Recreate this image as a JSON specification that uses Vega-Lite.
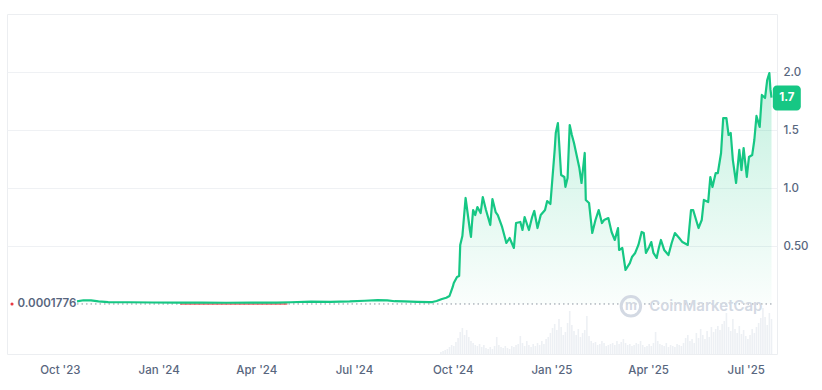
{
"$schema": "https://vega.github.io/schema/vega-lite/v6.json",
"width": 770,
"height": 340,
"autosize": "none",
"padding": {"left": 7, "top": 14, "right": 45, "bottom": 36},
"background": "white",
"config": {
  "view": {"stroke": "#eceef1"},
  "axis": {"labelFont": "Inter", "labelColor": "#58667e", "labelFontSize": 11.5, "labelFontWeight": 500, "ticks": false, "domain": false, "titleFont": "Inter"},
  "axisX": {"grid": false}
},
"datasets": {
  "price": [
    {"date":"2023-10-17","price":0.022},{"date":"2023-10-23","price":0.032},{"date":"2023-10-30","price":0.032},{"date":"2023-11-06","price":0.023},{"date":"2023-11-15","price":0.017},{"date":"2023-12-04","price":0.015},{"date":"2023-12-27","price":0.013},{"date":"2024-01-19","price":0.012},{"date":"2024-02-10","price":0.012},{"date":"2024-03-04","price":0.011},{"date":"2024-03-28","price":0.012},{"date":"2024-04-20","price":0.012},{"date":"2024-05-03","price":0.015},{"date":"2024-05-22","price":0.020},{"date":"2024-06-09","price":0.019},{"date":"2024-06-27","price":0.022},{"date":"2024-07-11","price":0.028},{"date":"2024-07-23","price":0.034},{"date":"2024-08-01","price":0.032},{"date":"2024-08-08","price":0.024},{"date":"2024-08-17","price":0.022},{"date":"2024-08-29","price":0.019},{"date":"2024-09-09","price":0.017},{"date":"2024-09-12","price":0.017},{"date":"2024-09-16","price":0.026},{"date":"2024-09-21","price":0.043},{"date":"2024-09-25","price":0.054},{"date":"2024-09-28","price":0.069},
    {"date":"2024-10-01","price":0.147},{"date":"2024-10-02","price":0.181},{"date":"2024-10-05","price":0.233},{"date":"2024-10-07","price":0.241},{"date":"2024-10-08","price":0.509},{"date":"2024-10-10","price":0.586},{"date":"2024-10-13","price":0.914},{"date":"2024-10-17","price":0.638},{"date":"2024-10-18","price":0.578},{"date":"2024-10-19","price":0.698},{"date":"2024-10-20","price":0.810},{"date":"2024-10-22","price":0.767},{"date":"2024-10-24","price":0.836},{"date":"2024-10-27","price":0.784},{"date":"2024-10-29","price":0.922},
    {"date":"2024-11-01","price":0.810},{"date":"2024-11-05","price":0.681},{"date":"2024-11-07","price":0.905},{"date":"2024-11-10","price":0.793},{"date":"2024-11-12","price":0.767},{"date":"2024-11-16","price":0.664},{"date":"2024-11-20","price":0.526},{"date":"2024-11-23","price":0.569},{"date":"2024-11-27","price":0.483},{"date":"2024-11-29","price":0.698},
    {"date":"2024-12-03","price":0.707},{"date":"2024-12-05","price":0.638},{"date":"2024-12-07","price":0.750},{"date":"2024-12-11","price":0.638},{"date":"2024-12-14","price":0.750},{"date":"2024-12-16","price":0.802},{"date":"2024-12-19","price":0.655},{"date":"2024-12-22","price":0.767},{"date":"2024-12-26","price":0.810},{"date":"2024-12-28","price":0.888},{"date":"2024-12-31","price":0.862},
    {"date":"2025-01-04","price":1.328},{"date":"2025-01-05","price":1.474},{"date":"2025-01-07","price":1.560},{"date":"2025-01-10","price":1.112},{"date":"2025-01-13","price":1.095},{"date":"2025-01-14","price":1.009},{"date":"2025-01-16","price":1.086},{"date":"2025-01-18","price":1.543},{"date":"2025-01-20","price":1.457},{"date":"2025-01-22","price":1.388},{"date":"2025-01-24","price":1.302},{"date":"2025-01-27","price":1.172},{"date":"2025-01-29","price":1.043},
    {"date":"2025-02-01","price":1.302},{"date":"2025-02-02","price":0.897},{"date":"2025-02-05","price":0.871},{"date":"2025-02-08","price":0.612},{"date":"2025-02-11","price":0.724},{"date":"2025-02-14","price":0.810},{"date":"2025-02-17","price":0.698},{"date":"2025-02-19","price":0.724},{"date":"2025-02-23","price":0.741},{"date":"2025-02-26","price":0.621},
    {"date":"2025-03-01","price":0.552},{"date":"2025-03-04","price":0.655},{"date":"2025-03-05","price":0.466},{"date":"2025-03-08","price":0.483},{"date":"2025-03-11","price":0.293},{"date":"2025-03-15","price":0.353},{"date":"2025-03-17","price":0.405},{"date":"2025-03-20","price":0.440},{"date":"2025-03-23","price":0.509},{"date":"2025-03-26","price":0.621},{"date":"2025-03-28","price":0.612},{"date":"2025-03-30","price":0.440},
    {"date":"2025-04-02","price":0.491},{"date":"2025-04-04","price":0.534},{"date":"2025-04-06","price":0.440},{"date":"2025-04-09","price":0.397},{"date":"2025-04-11","price":0.483},{"date":"2025-04-13","price":0.552},{"date":"2025-04-16","price":0.466},{"date":"2025-04-20","price":0.422},{"date":"2025-04-23","price":0.526},{"date":"2025-04-26","price":0.612},{"date":"2025-04-30","price":0.569},
    {"date":"2025-05-03","price":0.534},{"date":"2025-05-08","price":0.509},{"date":"2025-05-11","price":0.810},{"date":"2025-05-13","price":0.810},{"date":"2025-05-18","price":0.655},{"date":"2025-05-21","price":0.724},{"date":"2025-05-23","price":0.897},{"date":"2025-05-27","price":0.879},{"date":"2025-05-29","price":1.095},{"date":"2025-05-31","price":1.009},
    {"date":"2025-06-03","price":1.129},{"date":"2025-06-05","price":1.129},{"date":"2025-06-08","price":1.302},{"date":"2025-06-10","price":1.603},{"date":"2025-06-13","price":1.603},{"date":"2025-06-15","price":1.457},{"date":"2025-06-17","price":1.474},{"date":"2025-06-19","price":1.241},{"date":"2025-06-22","price":1.043},{"date":"2025-06-25","price":1.328},{"date":"2025-06-27","price":1.155},{"date":"2025-06-29","price":1.345},
    {"date":"2025-07-02","price":1.095},{"date":"2025-07-04","price":1.267},{"date":"2025-07-07","price":1.284},{"date":"2025-07-09","price":1.414},{"date":"2025-07-11","price":1.621},{"date":"2025-07-14","price":1.526},{"date":"2025-07-16","price":1.802},{"date":"2025-07-19","price":1.776},{"date":"2025-07-21","price":1.931},{"date":"2025-07-23","price":1.991},{"date":"2025-07-24","price":1.85},{"date":"2025-07-25","price":1.78}
  ],
  "red": [
    {"date":"2024-01-21","price":0.0001},{"date":"2024-02-20","price":0.0001},{"date":"2024-03-20","price":0.0001},{"date":"2024-04-30","price":0.0001}
  ],
  "volume": [
    {"date":"2024-09-20","volume":2},{"date":"2024-09-22","volume":3},{"date":"2024-09-24","volume":4},{"date":"2024-09-26","volume":5},{"date":"2024-09-28","volume":7},{"date":"2024-09-30","volume":9},
    {"date":"2024-10-02","volume":8},{"date":"2024-10-04","volume":12},{"date":"2024-10-06","volume":16},{"date":"2024-10-08","volume":22},{"date":"2024-10-10","volume":26},{"date":"2024-10-12","volume":19},{"date":"2024-10-14","volume":24},{"date":"2024-10-16","volume":17},{"date":"2024-10-18","volume":13},{"date":"2024-10-20","volume":11},{"date":"2024-10-22","volume":9},{"date":"2024-10-24","volume":8},{"date":"2024-10-26","volume":10},{"date":"2024-10-28","volume":7},{"date":"2024-10-30","volume":9},
    {"date":"2024-11-01","volume":6},{"date":"2024-11-03","volume":5},{"date":"2024-11-05","volume":7},{"date":"2024-11-07","volume":5},{"date":"2024-11-09","volume":8},{"date":"2024-11-11","volume":17},{"date":"2024-11-13","volume":9},{"date":"2024-11-15","volume":7},{"date":"2024-11-17","volume":6},{"date":"2024-11-19","volume":8},{"date":"2024-11-21","volume":6},{"date":"2024-11-23","volume":5},{"date":"2024-11-25","volume":8},{"date":"2024-11-27","volume":7},{"date":"2024-11-29","volume":9},
    {"date":"2024-12-01","volume":10},{"date":"2024-12-03","volume":18},{"date":"2024-12-05","volume":11},{"date":"2024-12-07","volume":8},{"date":"2024-12-09","volume":13},{"date":"2024-12-11","volume":9},{"date":"2024-12-13","volume":7},{"date":"2024-12-15","volume":10},{"date":"2024-12-17","volume":8},{"date":"2024-12-19","volume":11},{"date":"2024-12-21","volume":9},{"date":"2024-12-23","volume":13},{"date":"2024-12-25","volume":10},{"date":"2024-12-27","volume":15},{"date":"2024-12-29","volume":17},{"date":"2024-12-31","volume":21},
    {"date":"2025-01-02","volume":26},{"date":"2025-01-04","volume":30},{"date":"2025-01-06","volume":24},{"date":"2025-01-08","volume":35},{"date":"2025-01-10","volume":27},{"date":"2025-01-12","volume":19},{"date":"2025-01-14","volume":22},{"date":"2025-01-16","volume":31},{"date":"2025-01-18","volume":43},{"date":"2025-01-20","volume":29},{"date":"2025-01-22","volume":23},{"date":"2025-01-24","volume":19},{"date":"2025-01-26","volume":25},{"date":"2025-01-28","volume":17},{"date":"2025-01-30","volume":21},
    {"date":"2025-02-01","volume":24},{"date":"2025-02-03","volume":38},{"date":"2025-02-05","volume":18},{"date":"2025-02-07","volume":13},{"date":"2025-02-09","volume":11},{"date":"2025-02-11","volume":12},{"date":"2025-02-13","volume":9},{"date":"2025-02-15","volume":10},{"date":"2025-02-17","volume":13},{"date":"2025-02-19","volume":11},{"date":"2025-02-21","volume":8},{"date":"2025-02-23","volume":9},{"date":"2025-02-25","volume":10},{"date":"2025-02-27","volume":11},
    {"date":"2025-03-01","volume":9},{"date":"2025-03-03","volume":13},{"date":"2025-03-05","volume":10},{"date":"2025-03-07","volume":12},{"date":"2025-03-09","volume":15},{"date":"2025-03-11","volume":11},{"date":"2025-03-13","volume":9},{"date":"2025-03-15","volume":10},{"date":"2025-03-17","volume":8},{"date":"2025-03-19","volume":9},{"date":"2025-03-21","volume":11},{"date":"2025-03-23","volume":10},{"date":"2025-03-25","volume":13},{"date":"2025-03-27","volume":9},{"date":"2025-03-29","volume":7},{"date":"2025-03-31","volume":8},
    {"date":"2025-04-02","volume":10},{"date":"2025-04-04","volume":8},{"date":"2025-04-06","volume":11},{"date":"2025-04-08","volume":22},{"date":"2025-04-10","volume":13},{"date":"2025-04-12","volume":10},{"date":"2025-04-14","volume":9},{"date":"2025-04-16","volume":8},{"date":"2025-04-18","volume":11},{"date":"2025-04-20","volume":7},{"date":"2025-04-22","volume":9},{"date":"2025-04-24","volume":8},{"date":"2025-04-26","volume":7},{"date":"2025-04-28","volume":10},{"date":"2025-04-30","volume":9},
    {"date":"2025-05-02","volume":8},{"date":"2025-05-04","volume":11},{"date":"2025-05-06","volume":16},{"date":"2025-05-08","volume":19},{"date":"2025-05-10","volume":13},{"date":"2025-05-12","volume":15},{"date":"2025-05-14","volume":11},{"date":"2025-05-16","volume":21},{"date":"2025-05-18","volume":16},{"date":"2025-05-20","volume":25},{"date":"2025-05-22","volume":19},{"date":"2025-05-24","volume":15},{"date":"2025-05-26","volume":23},{"date":"2025-05-28","volume":17},{"date":"2025-05-30","volume":27},
    {"date":"2025-06-01","volume":22},{"date":"2025-06-03","volume":25},{"date":"2025-06-05","volume":28},{"date":"2025-06-07","volume":24},{"date":"2025-06-09","volume":30},{"date":"2025-06-11","volume":33},{"date":"2025-06-13","volume":41},{"date":"2025-06-15","volume":27},{"date":"2025-06-17","volume":23},{"date":"2025-06-19","volume":35},{"date":"2025-06-21","volume":25},{"date":"2025-06-23","volume":21},{"date":"2025-06-25","volume":28},{"date":"2025-06-27","volume":20},{"date":"2025-06-29","volume":24},
    {"date":"2025-07-01","volume":18},{"date":"2025-07-03","volume":15},{"date":"2025-07-05","volume":19},{"date":"2025-07-07","volume":25},{"date":"2025-07-09","volume":21},{"date":"2025-07-11","volume":27},{"date":"2025-07-13","volume":31},{"date":"2025-07-15","volume":36},{"date":"2025-07-17","volume":46},{"date":"2025-07-19","volume":37},{"date":"2025-07-21","volume":29},{"date":"2025-07-23","volume":41},{"date":"2025-07-25","volume":35}
  ],
  "open": [{"date":"2023-08-22T12:00:00Z","start":"2023-10-17","end":"2025-07-25T11:00:00Z","edge":"2023-08-17T10:00:00Z","price":0.0001776,"label":"0.0001776"}],
  "last": [{"date":"2025-08-08T06:00:00Z","price":1.776,"label":"1.7"}],
  "brand": [{"date":"2025-03-16","logo":"2025-03-16","textdate":"2025-04-02","price":-0.02,"label":"CoinMarketCap"}]
},
"layer": [
  {
    "data": {"name": "volume"},
    "mark": {"type": "bar", "color": "#edf0f4", "size": 1.6},
    "encoding": {
      "x": {"field": "date", "type": "temporal", "title": null,
        "scale": {"type": "utc", "domain": [{"year": 2023, "month": 8, "date": 17, "hours": 10, "utc": true}, {"year": 2025, "month": 7, "date": 25, "hours": 11, "utc": true}]},
        "axis": {"values": [{"year":2023,"month":10,"date":1,"utc":true},{"year":2024,"month":1,"date":1,"utc":true},{"year":2024,"month":4,"date":1,"utc":true},{"year":2024,"month":7,"date":1,"utc":true},{"year":2024,"month":10,"date":1,"utc":true},{"year":2025,"month":1,"date":1,"utc":true},{"year":2025,"month":4,"date":1,"utc":true},{"year":2025,"month":7,"date":1,"utc":true}],
          "labelExpr": "utcFormat(datum.value, \"%b '%y\")", "labelPadding": 10, "grid": false, "labelFlush": false, "labelOverlap": false}},
      "y": {"field": "volume", "type": "quantitative", "scale": {"domain": [0, 340]}, "axis": null}
    }
  },
  {
    "layer": [
      {
        "data": {"name": "price"},
        "mark": {"type": "area", "color": {"gradient": "linear", "x1": 0, "y1": 0, "x2": 0, "y2": 1, "stops": [{"offset": 0, "color": "rgba(22,199,132,0.26)"}, {"offset": 1, "color": "rgba(22,199,132,0.02)"}]}},
        "encoding": {
          "x": {"field": "date", "type": "temporal", "title": null},
          "y": {"field": "price", "type": "quantitative", "title": "USD", "scale": {"domain": [-0.431, 2.5], "nice": false, "zero": false},
            "axis": {"orient": "right", "values": [0.5, 1, 1.5, 2], "grid": true, "gridColor": "#eff1f4", "labelPadding": 6,
              "labelExpr": "datum.value == 0.5 ? '0.50' : format(datum.value, '.1f')",
              "titleAngle": 0, "titleAlign": "left", "titleBaseline": "middle", "titleX": 13, "titleY": 339, "titleFontWeight": "bold", "titleColor": "#58667e", "titleFontSize": 11.5}}
        }
      },
      {
        "data": {"name": "open"},
        "mark": {"type": "rule", "color": "#8a939f", "strokeDash": [1.5, 3], "strokeWidth": 1},
        "encoding": {
          "x": {"field": "start", "type": "temporal", "title": null},
          "x2": {"field": "end"},
          "y": {"field": "price", "type": "quantitative", "title": null}
        }
      },
      {
        "data": {"name": "red"},
        "mark": {"type": "line", "color": "#ea3943", "strokeWidth": 1.5, "opacity": 0.8},
        "encoding": {
          "x": {"field": "date", "type": "temporal", "title": null},
          "y": {"field": "price", "type": "quantitative", "title": null}
        }
      },
      {
        "data": {"name": "price"},
        "mark": {"type": "line", "color": "#16c784", "strokeWidth": 2.2, "strokeJoin": "round"},
        "encoding": {
          "x": {"field": "date", "type": "temporal", "title": null},
          "y": {"field": "price", "type": "quantitative", "title": null}
        }
      },
      {
        "data": {"name": "open"},
        "mark": {"type": "text", "align": "left", "baseline": "middle", "font": "Inter", "fontSize": 11.5, "fontWeight": 600, "color": "#58667e"},
        "encoding": {
          "x": {"field": "date", "type": "temporal", "title": null},
          "y": {"field": "price", "type": "quantitative", "title": null},
          "text": {"field": "label"}
        }
      },
      {
        "data": {"name": "open"},
        "mark": {"type": "point", "filled": true, "color": "#ea3943", "size": 10, "opacity": 1},
        "encoding": {
          "x": {"field": "edge", "type": "temporal", "title": null},
          "y": {"field": "price", "type": "quantitative", "title": null}
        }
      },
      {
        "data": {"name": "brand"},
        "mark": {"type": "point", "filled": false, "color": "#d3d9e3", "size": 380, "strokeWidth": 3, "opacity": 1},
        "encoding": {
          "x": {"field": "logo", "type": "temporal", "title": null},
          "y": {"field": "price", "type": "quantitative", "title": null}
        }
      },
      {
        "data": {"name": "brand"},
        "mark": {"type": "text", "align": "center", "baseline": "middle", "font": "Inter", "fontSize": 13, "fontWeight": 700, "color": "#d3d9e3", "text": "m"},
        "encoding": {
          "x": {"field": "logo", "type": "temporal", "title": null},
          "y": {"field": "price", "type": "quantitative", "title": null}
        }
      },
      {
        "data": {"name": "brand"},
        "mark": {"type": "text", "align": "left", "baseline": "middle", "font": "Inter", "fontSize": 15, "fontWeight": 600, "color": "#d3d9e3"},
        "encoding": {
          "x": {"field": "textdate", "type": "temporal", "title": null},
          "y": {"field": "price", "type": "quantitative", "title": null},
          "text": {"field": "label"}
        }
      },
      {
        "data": {"name": "last"},
        "mark": {"type": "rect", "color": "#16c784", "width": 28, "height": 25, "cornerRadius": 4, "clip": false},
        "encoding": {
          "x": {"field": "date", "type": "temporal", "title": null},
          "y": {"field": "price", "type": "quantitative", "title": null}
        }
      },
      {
        "data": {"name": "last"},
        "mark": {"type": "text", "align": "center", "baseline": "middle", "font": "Inter", "fontSize": 11.5, "fontWeight": 700, "color": "white"},
        "encoding": {
          "x": {"field": "date", "type": "temporal", "title": null},
          "y": {"field": "price", "type": "quantitative", "title": null},
          "text": {"field": "label"}
        }
      }
    ]
  }
],
"resolve": {"scale": {"y": "independent"}}
}
